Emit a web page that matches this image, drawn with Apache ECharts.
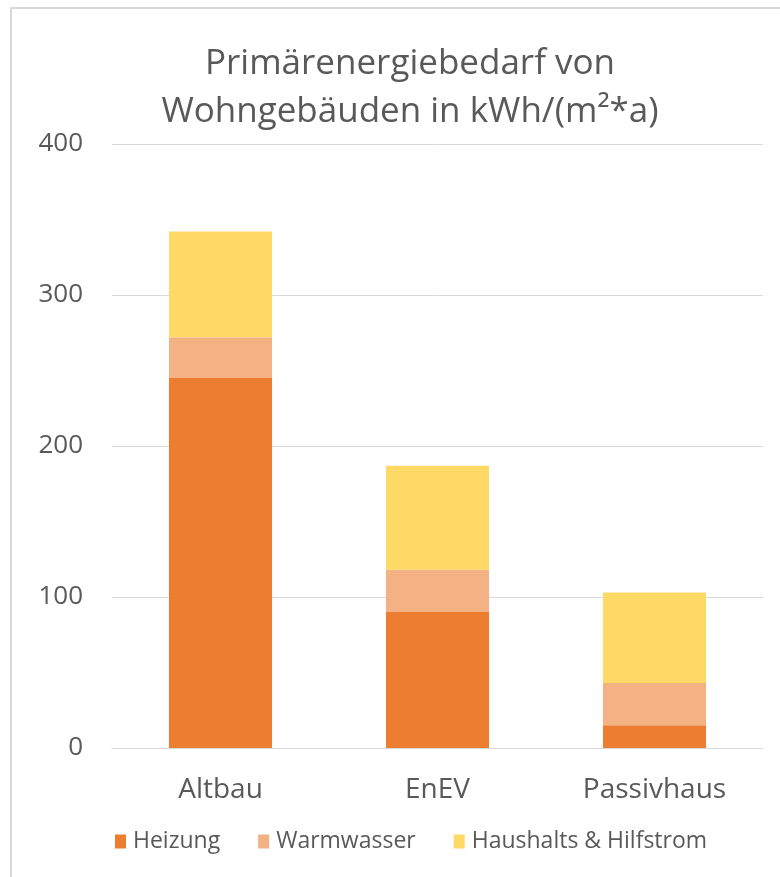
<!DOCTYPE html>
<html><head><meta charset="utf-8">
<script src="https://cdn.jsdelivr.net/npm/echarts@6/dist/echarts.min.js"></script>
<style>html,body{margin:0;padding:0;background:#fff}#c{width:780px;height:877px}</style>
</head><body><div id="c"></div>
<script>
const categories = ['Altbau', 'EnEV', 'Passivhaus'];
const heizung = [245, 90, 15];
const warmwasser = [27, 28, 28];
const haushalt = [70, 69, 60];
const yTicks = [0, 100, 200, 300, 400];

const chart = echarts.init(document.getElementById('c'));
const font = '"Open Sans", sans-serif';
const txt = '#595959';
chart.setOption({
  animation: false,
  backgroundColor: '#fff',
  graphic: [{type:'rect', shape:{x:11, y:8, width:800, height:900}, style:{fill:'none', stroke:'#d9d9d9', lineWidth:2}, silent:true}],
  title: {
    text: 'Primärenergiebedarf von\nWohngebäuden in kWh/(m²*a)',
    left: 405, top: 35, textAlign: 'center',
    textStyle: {fontFamily: font, fontSize: 35, fontWeight: 'normal', color: txt, lineHeight: 48}
  },
  legend: {
    bottom: 19, left: 110, itemWidth: 11, itemHeight: 14, itemGap: 38, icon: 'rect',
    textStyle: {fontFamily: font, fontSize: 23, color: txt, padding: [0, 0, 0, 2]},
    data: ['Heizung', 'Warmwasser', 'Haushalts & Hilfstrom']
  },
  grid: {left: 112, right: 17, top: 144, bottom: 129, containLabel: false},
  xAxis: {
    type: 'category', data: categories,
    axisLine: {lineStyle: {color: '#d9d9d9'}}, axisTick: {show: false},
    axisLabel: {fontFamily: font, fontSize: 28, color: txt, margin: 28}
  },
  yAxis: {
    type: 'value', min: yTicks[0], max: yTicks[yTicks.length-1], interval: 100,
    axisLine: {show: false}, axisTick: {show: false},
    splitLine: {lineStyle: {color: '#d9d9d9'}},
    axisLabel: {fontFamily: font, fontSize: 26, color: txt, margin: 29}
  },
  series: [
    {name: 'Heizung', type: 'bar', stack: 's', data: heizung, barWidth: '47.5%', itemStyle: {color: '#ED7D31'}},
    {name: 'Warmwasser', type: 'bar', stack: 's', data: warmwasser, itemStyle: {color: '#F4B183'}},
    {name: 'Haushalts & Hilfstrom', type: 'bar', stack: 's', data: haushalt, itemStyle: {color: '#FFD966'}}
  ]
});
</script></body></html>
